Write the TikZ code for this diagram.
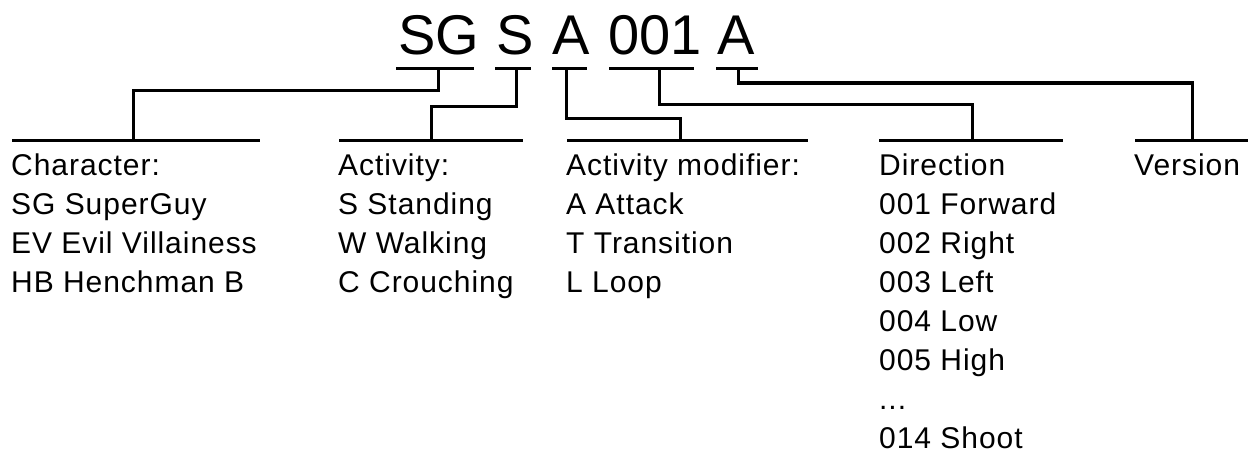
\documentclass[tikz,border=0pt]{standalone}
\usepackage{fontspec}
\setmainfont{Liberation Sans}
\newfontfamily\descfont[LetterSpace=3.2]{Liberation Sans}
\begin{document}
\begin{tikzpicture}[x=1pt,y=-1pt,
  bar/.style={line width=3pt},
  conn/.style={line width=3pt},
  code/.style={inner sep=0pt, anchor=base, font=\fontsize{56}{56}\selectfont},
  desc/.style={inner sep=0pt, anchor=base west, align=left, font=\descfont\fontsize{30}{39}\selectfont}]
\useasboundingbox (0,0) rectangle (1253,452);
% code letters
\node[code] (t1) at (439,55) {SG};
\node[code] (t2) at (515,55) {S};
\node[code] (t3) at (571,55) {A};
\node[code] (t4) at (655,55) {001};
\node[code] (t5) at (736,55) {A};
% underlines
\coordinate (u1l) at (396,69); \coordinate (u1r) at (474,69);
\coordinate (u2l) at (495,69); \coordinate (u2r) at (531,69);
\coordinate (u3l) at (552,69); \coordinate (u3r) at (587,69);
\coordinate (u4l) at (609,69); \coordinate (u4r) at (694,69);
\coordinate (u5l) at (716,69); \coordinate (u5r) at (758,69);
\draw[bar] (u1l) -- (u1r);
\draw[bar] (u2l) -- (u2r);
\draw[bar] (u3l) -- (u3r);
\draw[bar] (u4l) -- (u4r);
\draw[bar] (u5l) -- (u5r);
% connector starts
\coordinate (u1) at (438,69);
\coordinate (u2) at (516,69);
\coordinate (u3) at (566,69);
\coordinate (u4) at (659,69);
\coordinate (u5) at (738,69);
% header lines
\coordinate (h1l) at (12,140);  \coordinate (h1r) at (260,140);
\coordinate (h2l) at (339,140); \coordinate (h2r) at (523,140);
\coordinate (h3l) at (567,140); \coordinate (h3r) at (808,140);
\coordinate (h4l) at (879,140); \coordinate (h4r) at (1063,140);
\coordinate (h5l) at (1135,140); \coordinate (h5r) at (1248,140);
\draw[bar] (h1l) -- (h1r);
\draw[bar] (h2l) -- (h2r);
\draw[bar] (h3l) -- (h3r);
\draw[bar] (h4l) -- (h4r);
\draw[bar] (h5l) -- (h5r);
% connector ends
\coordinate (h1) at (133,140);
\coordinate (h2) at (431,140);
\coordinate (h3) at (680,140);
\coordinate (h4) at (972,140);
\coordinate (h5) at (1192,140);
\draw[conn] (u1) -- ++(0,21) -| (h1);
\draw[conn] (u2) -- ++(0,37) -| (h2);
\draw[conn] (u3) -- ++(0,49) -| (h3);
\draw[conn] (u4) -- ++(0,35) -| (h4);
\draw[conn] (u5) -- ++(0,14) -| (h5);
% descriptions (anchored at the baseline of their last line)
\node[desc] (d1) at (11,292) {Character:\\SG SuperGuy\\EV Evil Villainess\\HB Henchman B};
\node[desc] (d2) at (338,292) {Activity:\\S Standing\\W Walking\\C Crouching};
\node[desc] (d3) at (566,292) {Activity modifier:\\A Attack\\T Transition\\L Loop};
\node[desc] (d4) at (879,448) {Direction\\001 Forward\\002 Right\\003 Left\\004 Low\\005 High\\...\\014 Shoot};
\node[desc] (d5) at (1134,175) {Version};
\end{tikzpicture}
\end{document}
